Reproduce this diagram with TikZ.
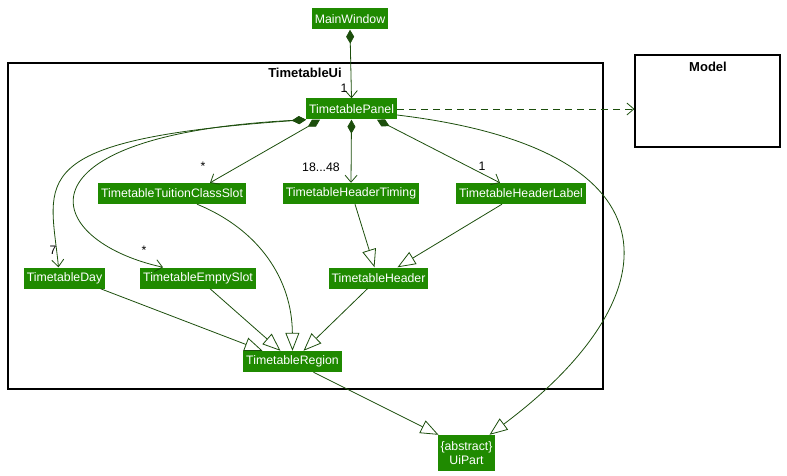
\documentclass[tikz,border=0pt]{standalone}
\usepackage{fontspec}
\setmainfont{Liberation Sans}
\usetikzlibrary{arrows.meta}

\definecolor{clsgreen}{RGB}{31,138,0}
\definecolor{linegreen}{RGB}{28,78,12}

\begin{document}
\begin{tikzpicture}[x=1pt,y=-1pt,
    cls/.style={fill=clsgreen,text=white,font=\fontsize{12.3}{14}\selectfont,
        inner xsep=2.8pt,inner ysep=2pt,minimum height=21pt},
    pkg/.style={draw=black,line width=1.1pt},
    mult/.style={font=\fontsize{12.3}{14}\selectfont,inner sep=0pt},
    link/.style={draw=linegreen,line width=0.8pt},
    comp/.style={link,{Diamond[length=14pt,width=8pt]}-{Straight Barb[length=7pt,width=12pt]}},
    inh/.style={link,-{Triangle[open,length=18pt,width=14pt,fill=white]}},
    dep/.style={link,dash pattern=on 7pt off 5pt,-{Straight Barb[length=7pt,width=12pt]}}]
\useasboundingbox (0,0) rectangle (787,476);

% packages
\draw[pkg] (8,63) rectangle (603,389);
\node[font=\bfseries\fontsize{13}{15}\selectfont] (uititle) at (305,73) {TimetableUi};
\node[pkg,minimum width=145pt,minimum height=92pt] (model) at (707.5,101) {};
\node[font=\bfseries\fontsize{13}{15}\selectfont] (modeltitle) at (708,67) {Model};

% classes
\node[cls] (mainwin) at (350,19) {MainWindow};
\node[cls] (panel) at (351.5,109) {TimetablePanel};
\node[cls] (tuition) at (172,193.5) {TimetableTuitionClassSlot};
\node[cls] (timing) at (351,193.5) {TimetableHeaderTiming};
\node[cls] (hlabel) at (521,193.5) {TimetableHeaderLabel};
\node[cls] (day) at (64.5,278) {TimetableDay};
\node[cls] (empty) at (198,278) {TimetableEmptySlot};
\node[cls] (header) at (378.5,278) {TimetableHeader};
\node[cls] (region) at (292.5,361.5) {TimetableRegion};
\node[cls,align=center,minimum height=36pt,inner ysep=1pt,font=\fontsize{12.3}{13.5}\selectfont] (uipart) at (466.5,453) {\{abstract\}\\UiPart};

% composition
\draw[comp] (mainwin.south) -- (panel.north);
\draw[comp] ([xshift=14pt]panel.south west) -- ([xshift=38pt]tuition.north);
\draw[comp] (panel.south) -- (timing.north);
\draw[comp] ([xshift=-20pt]panel.south east) -- ([xshift=-21pt]hlabel.north);
\draw[comp] (panel.south west) .. controls (20,140) and (50,180) .. ([xshift=-6pt]day.north);
\draw[comp] (panel.south west) .. controls (10,135) and (40,240) .. ([xshift=-35pt]empty.north);
\draw[dep] (panel.east) -- (panel.east -| model.west);

% multiplicities
\node[mult] (m1) at (344,88) {1};
\node[mult] (m2) at (203,166) {*};
\node[mult] (m3) at (321,167) {18...48};
\node[mult] (m4) at (482,166) {1};
\node[mult] (m5) at (53,250) {7};
\node[mult] (m6) at (144,250) {*};

% inheritance
\draw[inh] ([xshift=25pt]tuition.south) .. controls (260,230) and (292,280) .. (region.north);
\draw[inh] ([xshift=4pt]timing.south) -- ([xshift=-4pt]header.north);
\draw[inh] ([xshift=-19pt]hlabel.south) -- ([xshift=19pt]header.north);
\draw[inh] ([xshift=36pt]day.south) -- ([xshift=-30pt]region.north);
\draw[inh] ([xshift=12pt]empty.south) -- ([xshift=-12pt]region.north);
\draw[inh] ([xshift=-11pt]header.south) -- ([xshift=11pt]region.north);
\draw[inh] ([xshift=21pt]region.south) -- ([xshift=-28pt]uipart.north);
\draw[inh] ([yshift=-6pt]panel.east) .. controls (690,150) and (670,300) .. ([xshift=-6pt]uipart.north east);
%\draw[inh] (panel.east) -- (uipart.north);
\end{tikzpicture}
\end{document}
